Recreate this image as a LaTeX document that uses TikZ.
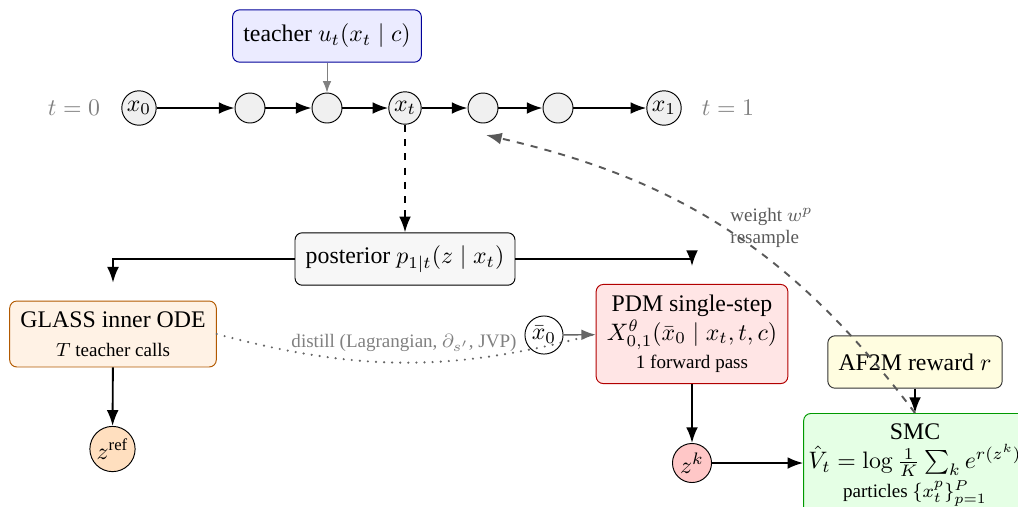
\documentclass[tikz,border=0pt]{standalone}
\usepackage{amsmath}
\usepackage[no-math]{fontspec}
\setmainfont{Liberation Serif}
\usetikzlibrary{positioning,arrows.meta}

\begin{document}
\begin{tikzpicture}[x=0.42pt, y=-0.42pt,
  st/.style={circle, draw, fill=gray!12, minimum size=12.6pt, inner sep=1pt},
  blk/.style={draw, rounded corners=3pt, align=center, inner sep=4.5pt,
              minimum height=22pt},
  tlab/.style={text=gray},
  note/.style={font=\footnotesize, text=black!65, align=left},
  arr/.style={-{Latex}, thick}]
\useasboundingbox (0,0) rectangle (1018,506);
% time chain
\node[st] (x0) at (139,108) {$x_0$};
\node[st] (c1) at (250,108) {};
\node[st] (c2) at (327,108) {};
\node[st] (xt) at (405,108) {$x_t$};
\node[st] (c3) at (483,108) {};
\node[st] (c4) at (558,108) {};
\node[st] (x1) at (664,108) {$x_1$};
\node[tlab] (t0) at (74,108) {$t=0$};
\node[tlab] (t1) at (728,108) {$t=1$};
\foreach \a/\b in {x0/c1,c1/c2,c2/xt,xt/c3,c3/c4,c4/x1}
  \draw[arr] (\a) -- (\b);
\node[blk, fill=blue!8, draw=blue!60!black] (teacher) at (327,36) {teacher $u_t(x_t \mid c)$};
\draw[-{Latex}, gray] (teacher) -- (c2);
% posterior and the two branches
\node[blk, fill=gray!6] (post) at (405,259) {posterior $p_{1|t}(z \mid x_t)$};
\draw[arr, dashed] (xt) -- (post);
\node[blk, fill=orange!10, draw=orange!70!black] (glass) at (113,334)
  {GLASS inner ODE\\{\footnotesize $T$ teacher calls}};
\node[st, fill=orange!25, minimum size=19pt] (zref) at (112.5,449) {$z^{\text{ref}}$};
\node[blk, fill=red!10, draw=red!70!black] (pdm) at (692,334)
  {PDM single-step\\$X^{\theta}_{0,1}(\bar{x}_0 \mid x_t, t, c)$\\{\footnotesize 1 forward pass}};
\node[circle, draw, minimum size=16pt, inner sep=1pt] (xbar) at (544,335) {$\bar{x}_0$};
\node[st, fill=red!22, minimum size=16.4pt] (zk) at (692,463) {$z^k$};
\node[blk, fill=yellow!12, draw=black!80] (af2m) at (915,362) {AF2M reward $r$};
\node[blk, fill=green!10, draw=green!60!black, anchor=north, inner xsep=2pt] (smc) at (915,413)
  {SMC\\$\hat{V}_t = \log \frac{1}{K} \sum_k e^{r(z^k)}$\\{\footnotesize particles $\{x_t^p\}_{p=1}^P$}};
\draw[arr, shorten >=7.5pt] (post.west) -| (glass.north);
\draw[arr, shorten >=7.5pt] (post.east) -| (pdm.north);
\draw[arr] (glass) -- (zref);
\draw[arr] (pdm) -- (zk);
\draw[arr] (zk) -- (zk -| smc.west);
\draw[arr] (af2m) -- (smc);
% distillation
\draw[black!60, line width=1pt, line cap=round, dash pattern=on 0pt off 3.4pt]
  (glass.east) to[bend right=15] (pdm.west);
\node[font=\footnotesize, text=gray] (dlab) at (404,343) {distill (Lagrangian, $\partial_{s'}$, JVP)};
\draw[-{Latex[length=6pt]}, semithick, black!60] (xbar) -- (pdm);
% SMC feedback
\coordinate (fb) at (486,135);
\draw[-{Latex}, thick, dashed, black!65] (smc.north) to[bend right=20] (fb);
\node[note, anchor=west] (wlab) at (722,228) {weight $w^p$\\resample};
\end{tikzpicture}
\end{document}
